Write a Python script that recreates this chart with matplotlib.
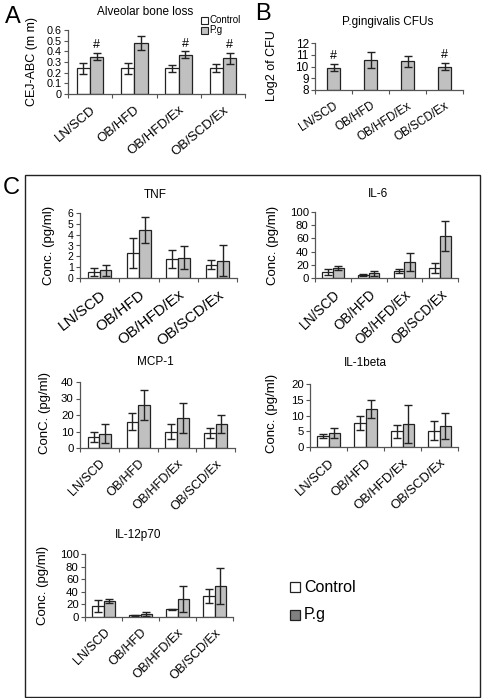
import matplotlib
matplotlib.use("Agg")
import matplotlib.pyplot as plt
from matplotlib.patches import Rectangle
import numpy as np

plt.rcParams['font.family'] = ['Liberation Sans', 'DejaVu Sans']

W, H = 482, 698

groups = ["LN/SCD", "OB/HFD", "OB/HFD/Ex", "OB/SCD/Ex"]

# Panel A: alveolar bone loss
bone_ctrl = [0.24, 0.24, 0.24, 0.245]
bone_ctrl_err = [0.05, 0.05, 0.032, 0.035]
bone_pg = [0.35, 0.475, 0.37, 0.335]
bone_pg_err = [0.035, 0.065, 0.032, 0.05]
bone_hash = [True, False, True, True]

# Panel B: P.gingivalis CFUs
cfu = [9.9, 10.55, 10.45, 10.0]
cfu_err = [0.3, 0.65, 0.45, 0.3]
cfu_hash = [True, False, False, True]

# Panel C: cytokines
tnf_ctrl = [0.55, 2.28, 1.75, 1.23]
tnf_ctrl_err = [0.4, 1.4, 0.83, 0.4]
tnf_pg = [0.7, 4.43, 1.88, 1.6]
tnf_pg_err = [0.5, 1.17, 1.07, 1.4]

il6_ctrl = [9, 5, 11, 15]
il6_ctrl_err = [4, 1.5, 3, 8]
il6_pg = [15, 7, 24, 64]
il6_pg_err = [3, 4, 14, 23]

mcp_ctrl = [6.5, 16, 10, 9.3]
mcp_ctrl_err = [3, 5, 4.3, 3]
mcp_pg = [8.7, 25.9, 18.2, 14.5]
mcp_pg_err = [5.7, 9, 9, 5.5]

il1_ctrl = [3.4, 7.6, 5.0, 5.2]
il1_ctrl_err = [0.7, 2.1, 2.1, 3.1]
il1_pg = [4.5, 12.1, 7.2, 6.7]
il1_pg_err = [1.5, 2.9, 6.0, 4.2]

il12_ctrl = [17, 2.7, 12.2, 34]
il12_ctrl_err = [9.6, 1, 1, 11]
il12_pg = [25.5, 4.8, 28.7, 49.5]
il12_pg_err = [2.5, 2.6, 20, 29]

fig = plt.figure(figsize=(W / 100, H / 100), dpi=100)

def fx(x):
    return x / W

def fy(y):
    return 1 - y / H

def make_ax(x0, x1, ytop, ybot):
    return fig.add_axes([fx(x0), fy(ybot), (x1 - x0) / W, (ybot - ytop) / H])

def style(ax, ylim, yticks, tick_fs=8, xrot=45, xfs=9):
    ax.set_xlim(-0.5, len(groups) - 0.5)
    ax.set_ylim(*ylim)
    ax.set_yticks(yticks)
    ax.set_yticklabels(["{:g}".format(t) for t in yticks], fontsize=tick_fs)
    ax.set_xticks(np.arange(len(groups)))
    ax.set_xticklabels(groups, rotation=xrot, ha='right', rotation_mode='anchor', fontsize=xfs)
    ax.set_xticks(np.arange(len(groups) + 1) - 0.5, minor=True)
    ax.tick_params(axis='x', which='major', length=0, pad=7)
    ax.tick_params(axis='x', which='minor', length=3, width=0.8, color='#555555')
    ax.tick_params(axis='y', length=3, width=0.8, color='#555555', pad=1.5)
    for s in ['top', 'right']:
        ax.spines[s].set_visible(False)
    for s in ['left', 'bottom']:
        ax.spines[s].set_color('#555555')
        ax.spines[s].set_linewidth(0.9)
    ax.set_facecolor('none')

ekw = dict(ecolor='#222222', elinewidth=1.0, capsize=3, capthick=1.0)
BW = 0.3

def pair(ax, c, ce, p, pe, pg_color='#c0c0c0'):
    x = np.arange(len(groups))
    ax.bar(x - BW / 2, c, BW, yerr=ce, color='white', edgecolor='#222222', linewidth=0.9,
           error_kw=ekw, zorder=2)
    ax.bar(x + BW / 2, p, BW, yerr=pe, color=pg_color, edgecolor='#222222', linewidth=0.9,
           error_kw=ekw, zorder=2)

# ---------- Panel A ----------
axA = make_ax(68, 245, 30, 94)
pair(axA, bone_ctrl, bone_ctrl_err, bone_pg, bone_pg_err)
style(axA, (0, 0.6), [0, 0.1, 0.2, 0.3, 0.4, 0.5, 0.6], tick_fs=7.8, xrot=40, xfs=9.5)
for i, h in enumerate(bone_hash):
    if h:
        axA.text(i + BW / 2, bone_pg[i] + bone_pg_err[i] + 0.015, "#", ha='center', va='bottom', fontsize=9)
fig.text(fx(145), fy(12), "Alveolar bone loss", ha='center', va='center', fontsize=8.5)
fig.text(fx(32), fy(62), "CEJ-ABC (m m)", rotation=90, ha='center', va='center', fontsize=9)
# small legend
for k, (lab, col) in enumerate([("Control", 'white'), ("P.g", '#c0c0c0')]):
    yy = 20 + k * 10
    fig.patches.append(Rectangle((fx(201), fy(yy + 4)), 7 / W, 7 / H, transform=fig.transFigure,
                                 facecolor=col, edgecolor='#222222', linewidth=0.8))
    fig.text(fx(209), fy(yy), lab, ha='left', va='center', fontsize=7)
fig.text(fx(13), fy(17), "A", ha='center', va='center', fontsize=17)

# ---------- Panel B ----------
axB = make_ax(315, 463, 43, 90)
x = np.arange(len(groups))
axB.bar(x, [c - 8 for c in cfu], 0.35, bottom=8, yerr=cfu_err, color='#c0c0c0',
        edgecolor='#222222', linewidth=0.9, error_kw=ekw, zorder=2)
style(axB, (8, 12), [8, 9, 10, 11, 12], tick_fs=8.5, xrot=33, xfs=8.5)
for i, h in enumerate(cfu_hash):
    if h:
        axB.text(i, cfu[i] + cfu_err[i] + 0.15, "#", ha='center', va='bottom', fontsize=9)
fig.text(fx(388), fy(22), "P.gingivalis CFUs", ha='center', va='center', fontsize=8.5)
fig.text(fx(272), fy(66), "Log2 of CFU", rotation=90, ha='center', va='center', fontsize=9)
fig.text(fx(263), fy(14), "B", ha='center', va='center', fontsize=17)

# ---------- Panel C box ----------
fig.patches.append(Rectangle((fx(25), fy(697)), (480 - 25) / W, (697 - 175) / H,
                             transform=fig.transFigure, facecolor='none',
                             edgecolor='#222222', linewidth=1.0))
fig.text(fx(11), fy(188), "C", ha='center', va='center', fontsize=17)

panels = [
    ("TNF", (80, 237, 213, 278), tnf_ctrl, tnf_ctrl_err, tnf_pg, tnf_pg_err, (0, 6), [0, 1, 2, 3, 4, 5, 6], (155, 195), (49, 245), "Conc. (pg/ml)", 7.5, 38, 11),
    ("IL-6", (315, 458, 212, 278), il6_ctrl, il6_ctrl_err, il6_pg, il6_pg_err, (0, 100), [0, 20, 40, 60, 80, 100], (378, 194), (273, 245), "Conc. (pg/ml)", 8.2, 44, 9.8),
    ("MCP-1", (80, 235, 382, 448), mcp_ctrl, mcp_ctrl_err, mcp_pg, mcp_pg_err, (0, 40), [0, 10, 20, 30, 40], (155, 362), (45, 413), "ConC. (pg/ml)", 8.2, 45, 9),
    ("IL-1beta", (310, 458, 384, 447), il1_ctrl, il1_ctrl_err, il1_pg, il1_pg_err, (0, 20), [0, 5, 10, 15, 20], (365, 363), (272, 413), "Conc. (pg/ml)", 8.2, 43, 9.4),
    ("IL-12p70", (85, 233, 554, 617), il12_ctrl, il12_ctrl_err, il12_pg, il12_pg_err, (0, 100), [0, 20, 40, 60, 80, 100], (138, 535), (43, 585), "Conc. (pg/ml)", 8.2, 45, 9),
]

for title, box, c, ce, p, pe, ylim, yt, tpos, lpos, ylab, tfs, xrot, xfs in panels:
    ax = make_ax(*box)
    pair(ax, c, ce, p, pe)
    style(ax, ylim, yt, tick_fs=tfs, xrot=xrot, xfs=xfs)
    fig.text(fx(tpos[0]), fy(tpos[1]), title, ha='center', va='center', fontsize=8.5)
    fig.text(fx(lpos[0]), fy(lpos[1]), ylab, rotation=90, ha='center', va='center', fontsize=9.5)

# legend in panel C
for k, (lab, col) in enumerate([("Control", 'white'), ("P.g", '#808080')]):
    yy = 587 + k * 28
    fig.patches.append(Rectangle((fx(290), fy(yy + 5)), 10 / W, 10 / H, transform=fig.transFigure,
                                 facecolor=col, edgecolor='#222222', linewidth=0.9))
    fig.text(fx(304), fy(yy), lab, ha='left', va='center', fontsize=11.5)

fig.savefig("out.png", dpi=100)
